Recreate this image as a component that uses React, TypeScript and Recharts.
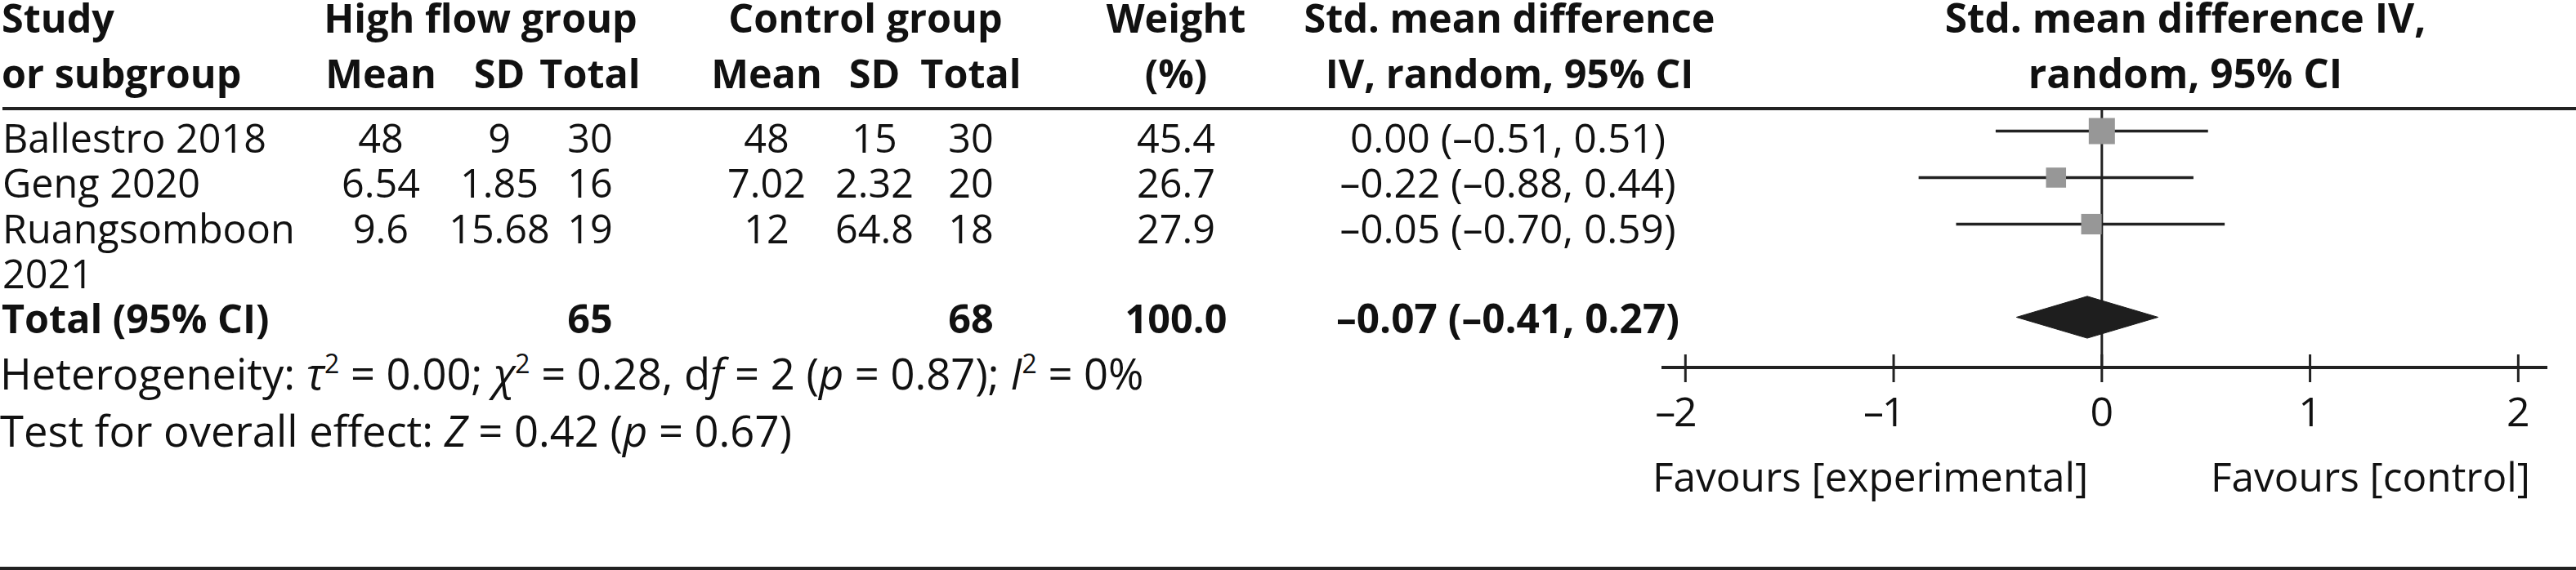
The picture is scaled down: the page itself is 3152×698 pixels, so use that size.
import React from 'react';
import { ComposedChart, XAxis, YAxis, Scatter, ReferenceLine } from 'recharts';

// ---------- data ----------
const studyLabels: string[][] = [['Ballestro 2018'], ['Geng 2020'], ['Ruangsomboon', '2021']];
const highMean = ['48', '6.54', '9.6'];
const highSD = ['9', '1.85', '15.68'];
const highTotal = ['30', '16', '19'];
const ctrlMean = ['48', '7.02', '12'];
const ctrlSD = ['15', '2.32', '64.8'];
const ctrlTotal = ['30', '20', '18'];
const weights = [45.4, 26.7, 27.9];
const smd = [0.0, -0.22, -0.05];
const ciLow = [-0.51, -0.88, -0.7];
const ciHigh = [0.51, 0.44, 0.59];
const pooledTotals = ['65', '68', '100.0'];
const pooled = { est: -0.07, low: -0.41, high: 0.27 };
const xTicks = [-2, -1, 0, 1, 2];
const xDomain: [number, number] = [-2.115, 2.14];

// ---------- style / layout ----------
const W = 3152;
const H = 698;
const FONT = "'Open Sans', sans-serif";
const FS = 48.5;
const FS_NOTE = 52.5;
const FS_AXIS = 50;
const FS_FAV = 49.5;
const INK = '#111111';
const LINE = '#222222';
const SQUARE = '#979797';
const COL = { study: 3, hMean: 466, hSD: 611, hTotal: 722, cMean: 938, cSD: 1070, cTotal: 1188, weight: 1439, smd: 1845, plot: 2674 };
const HDR1 = 40;
const HDR2 = 108;
const ROW0 = 187;
const ROWSTEP = 55.3;
const Y_MAX = 5.58;
const DIAMOND_HALF = 0.45;
const SQ_K = 4.75;

const fmt = (v: number) => (v < 0 ? '\u2013' : '') + Math.abs(v).toFixed(2);
const ciText = (e: number, l: number, h: number) => `${fmt(e)} (${fmt(l)}, ${fmt(h)})`;

const nStudies = studyLabels.length;
const rowY = (i: number) => i + 0.5;
const totalY = nStudies + 1.5;

const ciPoints = smd.flatMap((_, i) => [
  { x: ciLow[i], y: rowY(i) },
  { x: ciHigh[i], y: rowY(i) },
]);
const squarePoints = smd.map((v, i) => ({ x: v, y: rowY(i), w: weights[i] }));
const diamondPoints = [
  { x: pooled.low, y: totalY },
  { x: pooled.est, y: totalY - DIAMOND_HALF },
  { x: pooled.high, y: totalY },
  { x: pooled.est, y: totalY + DIAMOND_HALF },
];

const Nothing = () => <g />;

const segmentLines = (props: any) => {
  const pts = props.points || [];
  const out = [];
  for (let i = 0; i + 1 < pts.length; i += 2) {
    out.push(
      <line key={i} x1={pts[i].x} y1={pts[i].y} x2={pts[i + 1].x} y2={pts[i + 1].y} stroke={LINE} strokeWidth={3.5} />
    );
  }
  return <g>{out}</g>;
};

const diamondShape = (props: any) => {
  const pts = props.points || [];
  return <polygon points={pts.map((p: any) => `${p.x},${p.y}`).join(' ')} fill="#1e1e1e" stroke="#1e1e1e" strokeWidth={1} />;
};

const SquareShape = (props: any) => {
  const { cx, cy, payload } = props;
  const s = SQ_K * Math.sqrt(payload.w);
  return <rect x={cx - s / 2} y={cy - s / 2} width={s} height={s} fill={SQUARE} />;
};

const AxisTick = (props: any) => {
  const { x, y, payload } = props;
  const v = payload.value as number;
  return (
    <g>
      <line x1={x} x2={x} y1={y - 16} y2={y + 18} stroke={LINE} strokeWidth={3} />
      <text x={x} y={y + 72} textAnchor="middle" fontFamily={FONT} fontSize={FS_AXIS} fill={INK}>
        {Math.abs(v)}
      </text>
      {v < 0 && (
        <text x={x - 12} y={y + 72} textAnchor="end" fontFamily={FONT} fontSize={FS_AXIS} fill={INK}>
          {'\u2013'}
        </text>
      )}
    </g>
  );
};

const T = (p: any) => (
  <text fontFamily={FONT} fontSize={FS} fill={INK} {...p} />
);

const sup = (s: string) => (
  <tspan fontSize={32} dy={-20}>{s}</tspan>
);
const unsup = (s: string) => <tspan dy={20}>{s}</tspan>;

const Table = () => {
  const b = { fontWeight: 700 };
  return (
    <svg width={W} height={H} style={{ position: 'absolute', left: 0, top: 0, pointerEvents: 'none' }}>
      {/* headers */}
      <T x={COL.study - 1} y={HDR1} {...b}>Study</T>
      <T x={COL.study - 1} y={HDR2} {...b}>or subgroup</T>
      <T x={588} y={HDR1} textAnchor="middle" {...b}>High flow group</T>
      <T x={COL.hMean} y={HDR2} textAnchor="middle" {...b}>Mean</T>
      <T x={COL.hSD} y={HDR2} textAnchor="middle" {...b}>SD</T>
      <T x={COL.hTotal} y={HDR2} textAnchor="middle" {...b}>Total</T>
      <T x={1059} y={HDR1} textAnchor="middle" {...b}>Control group</T>
      <T x={COL.cMean} y={HDR2} textAnchor="middle" {...b}>Mean</T>
      <T x={COL.cSD} y={HDR2} textAnchor="middle" {...b}>SD</T>
      <T x={COL.cTotal} y={HDR2} textAnchor="middle" {...b}>Total</T>
      <T x={COL.weight} y={HDR1} textAnchor="middle" {...b}>Weight</T>
      <T x={COL.weight} y={HDR2} textAnchor="middle" {...b}>(%)</T>
      <T x={1847} y={HDR1} textAnchor="middle" {...b}>Std. mean difference</T>
      <T x={1847} y={HDR2} textAnchor="middle" {...b}>IV, random, 95% CI</T>
      <T x={COL.plot} y={HDR1} textAnchor="middle" {...b} fontSize={49.5}>Std. mean difference IV,</T>
      <T x={COL.plot} y={HDR2} textAnchor="middle" {...b} fontSize={49.5}>random, 95% CI</T>

      {/* header rule */}
      <line x1={3} x2={W} y1={133} y2={133} stroke={LINE} strokeWidth={4} />

      {/* study rows */}
      {studyLabels.map((lines, i) => {
        const y = ROW0 + i * ROWSTEP;
        return (
          <g key={i}>
            {lines.map((l, k) => (
              <T key={k} x={COL.study} y={y + k * ROWSTEP}>{l}</T>
            ))}
            <T x={COL.hMean} y={y} textAnchor="middle">{highMean[i]}</T>
            <T x={COL.hSD} y={y} textAnchor="middle">{highSD[i]}</T>
            <T x={COL.hTotal} y={y} textAnchor="middle">{highTotal[i]}</T>
            <T x={COL.cMean} y={y} textAnchor="middle">{ctrlMean[i]}</T>
            <T x={COL.cSD} y={y} textAnchor="middle">{ctrlSD[i]}</T>
            <T x={COL.cTotal} y={y} textAnchor="middle">{ctrlTotal[i]}</T>
            <T x={COL.weight} y={y} textAnchor="middle">{weights[i].toFixed(1)}</T>
            <T x={COL.smd} y={y} textAnchor="middle" fontSize={49.5}>{ciText(smd[i], ciLow[i], ciHigh[i])}</T>
          </g>
        );
      })}

      {/* total row */}
      <T x={COL.study - 1} y={ROW0 + 4 * ROWSTEP} {...b}>Total (95% CI)</T>
      <T x={COL.hTotal} y={ROW0 + 4 * ROWSTEP} textAnchor="middle" {...b}>{pooledTotals[0]}</T>
      <T x={COL.cTotal} y={ROW0 + 4 * ROWSTEP} textAnchor="middle" {...b}>{pooledTotals[1]}</T>
      <T x={COL.weight} y={ROW0 + 4 * ROWSTEP} textAnchor="middle" {...b}>{pooledTotals[2]}</T>
      <T x={COL.smd} y={ROW0 + 4 * ROWSTEP} textAnchor="middle" {...b} fontSize={49.5}>{ciText(pooled.est, pooled.low, pooled.high)}</T>

      {/* footnotes */}
      <T x={0} y={477} fontSize={FS_NOTE}>
        Heterogeneity: <tspan fontStyle="italic">τ</tspan>{sup('2')}{unsup(' = 0.00; ')}
        <tspan fontStyle="italic">χ</tspan>{sup('2')}{unsup(' = 0.28, d')}
        <tspan fontStyle="italic">f</tspan> = 2 (<tspan fontStyle="italic">p</tspan> = 0.87);{' '}
        <tspan fontStyle="italic">I</tspan>{sup('2')}{unsup(' = 0%')}
      </T>
      <T x={0} y={547} fontSize={FS_NOTE}>
        Test for overall effect: <tspan fontStyle="italic">Z</tspan> = 0.42 (<tspan fontStyle="italic">p</tspan> = 0.67)
      </T>

      {/* favours labels */}
      <T x={2022} y={602} fontSize={FS_FAV}>Favours [experimental]</T>
      <T x={3096} y={602} textAnchor="end" fontSize={FS_FAV}>Favours [control]</T>

      {/* bottom rule */}
      <line x1={0} x2={W} y1={696} y2={696} stroke={LINE} strokeWidth={4} />
    </svg>
  );
};

export default function App() {
  return (
    <div style={{ position: 'absolute', left: 0, top: 0, width: W, height: H, background: '#fff' }}>
      <ComposedChart width={W} height={H} margin={{ top: 132, right: 35, bottom: 0, left: 2033 }}>
        <XAxis
          type="number"
          dataKey="x"
          domain={xDomain}
          ticks={xTicks}
          allowDataOverflow
          height={248}
          tickSize={0}
          tickMargin={0}
          tickLine={false}
          axisLine={{ stroke: LINE, strokeWidth: 4 }}
          tick={<AxisTick />}
          interval={0}
        />
        <YAxis type="number" dataKey="y" domain={[0, Y_MAX]} reversed hide allowDataOverflow />
        <ReferenceLine x={0} stroke={LINE} strokeWidth={3} />
        <Scatter data={ciPoints} shape={<Nothing />} line={segmentLines} isAnimationActive={false} />
        <Scatter data={squarePoints} shape={<SquareShape />} isAnimationActive={false} />
        <Scatter data={diamondPoints} shape={<Nothing />} line={diamondShape} isAnimationActive={false} />
      </ComposedChart>
      <Table />
    </div>
  );
}
